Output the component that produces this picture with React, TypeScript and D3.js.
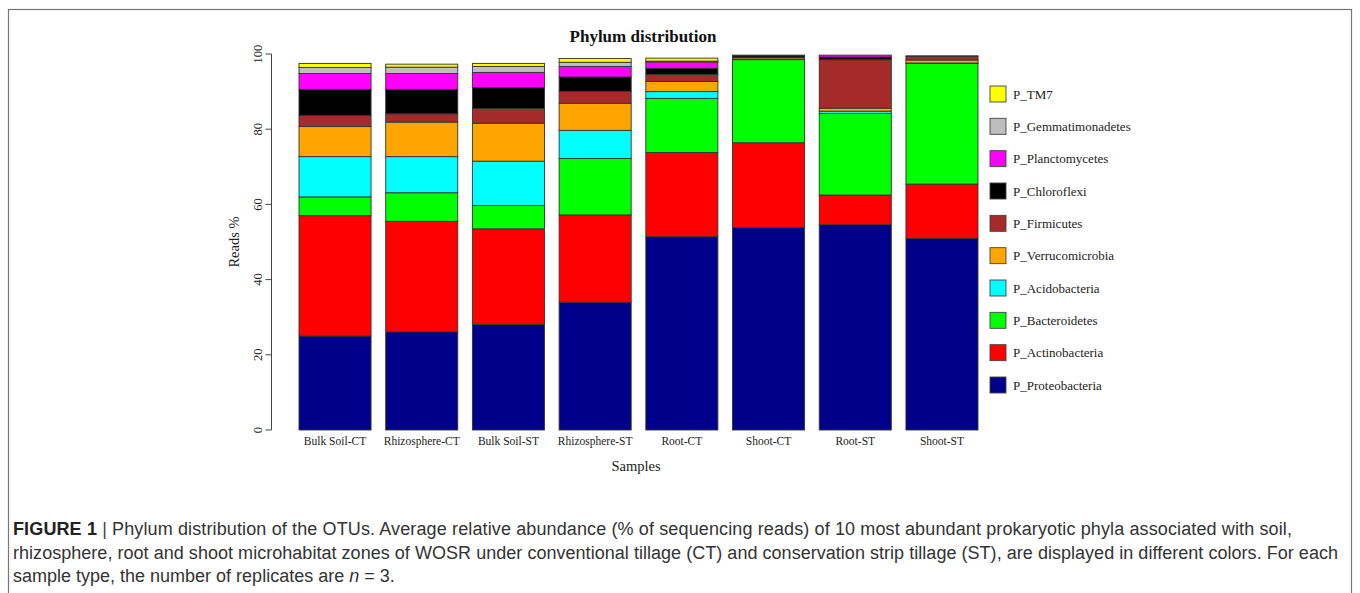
import React from "react";
import * as d3 from "d3";

// samples on the x axis
const samples = [
  "Bulk Soil-CT",
  "Rhizosphere-CT",
  "Bulk Soil-ST",
  "Rhizosphere-ST",
  "Root-CT",
  "Shoot-CT",
  "Root-ST",
  "Shoot-ST",
];

// phyla, bottom of the stack first
const phyla = [
  "P_Proteobacteria",
  "P_Actinobacteria",
  "P_Bacteroidetes",
  "P_Acidobacteria",
  "P_Verrucomicrobia",
  "P_Firmicutes",
  "P_Chloroflexi",
  "P_Planctomycetes",
  "P_Gemmatimonadetes",
  "P_TM7",
];

const phylaColors = [
  "#00008B",
  "#FF0000",
  "#00FF00",
  "#00FFFF",
  "#FFA500",
  "#A52A2A",
  "#000000",
  "#FF00FF",
  "#BEBEBE",
  "#FFFF00",
];

// reads % per phylum, one value per sample
const proteobacteria = [25.0, 26.1, 28.1, 34.0, 51.4, 53.9, 54.6, 50.9];
const actinobacteria = [32.0, 29.4, 25.4, 23.2, 22.4, 22.5, 7.9, 14.5];
const bacteroidetes = [5.0, 7.6, 6.2, 15.0, 14.4, 22.1, 21.7, 32.1];
const acidobacteria = [10.7, 9.6, 11.8, 7.5, 1.8, 0.1, 0.6, 0.1];
const verrucomicrobia = [8.0, 9.2, 10.1, 7.2, 2.7, 0.4, 0.8, 0.8];
const firmicutes = [3.0, 2.2, 3.9, 3.2, 1.9, 0.2, 12.9, 1.0];
const chloroflexi = [6.9, 6.5, 5.6, 3.8, 1.6, 0.4, 0.7, 0.1];
const planctomycetes = [4.2, 4.2, 4.0, 2.8, 1.7, 0.1, 0.5, 0.0];
const gemmatimonadetes = [1.6, 1.7, 1.6, 1.1, 0.2, 0.0, 0.0, 0.0];
const tm7 = [1.1, 0.8, 0.8, 1.0, 0.8, 0.0, 0.0, 0.0];

const yTicks = [0, 20, 40, 60, 80, 100];

const series = [
  proteobacteria,
  actinobacteria,
  bacteroidetes,
  acidobacteria,
  verrucomicrobia,
  firmicutes,
  chloroflexi,
  planctomycetes,
  gemmatimonadetes,
  tm7,
];

const captionLines = [
  "Phylum distribution of the OTUs. Average relative abundance (% of sequencing reads) of 10 most abundant prokaryotic phyla associated with soil,",
  "rhizosphere, root and shoot microhabitat zones of WOSR under conventional tillage (CT) and conservation strip tillage (ST), are displayed in different colors. For each",
];

const SERIF = "'Liberation Serif', 'Times New Roman', serif";
const SANS = "'Liberation Sans', Arial, sans-serif";

export default function App() {
  const width = 1360;
  const height = 593;

  // table for d3.stack
  const table = samples.map((s, i) => {
    const row: Record<string, number | string> = { sample: s };
    phyla.forEach((p, j) => (row[p] = series[j][i]));
    return row;
  });
  const stacked = d3.stack<any>().keys(phyla)(table);

  const x = d3
    .scaleBand<string>()
    .domain(samples)
    .range([299, 978])
    .paddingInner(0.169)
    .paddingOuter(0);

  const y = d3.scaleLinear().domain([0, 100]).range([430, 54]);

  const legendY = d3
    .scalePoint<string>()
    .domain([...phyla].reverse())
    .range([94, 385]);

  const axisX = 271.5;

  return (
    <div style={{ position: "absolute", left: 0, top: 0 }}>
      <svg width={width} height={height} style={{ display: "block" }}>
        <rect x={0} y={0} width={width} height={height} fill="#fff" />
        {/* frame */}
        <rect
          x={8.5}
          y={9.5}
          width={1343}
          height={620}
          fill="none"
          stroke="#777"
          strokeWidth={1.2}
        />

        {/* title */}
        <text
          x={643}
          y={42}
          textAnchor="middle"
          fontFamily={SERIF}
          fontWeight="bold"
          fontSize={17}
          fill="#111"
        >
          Phylum distribution
        </text>

        {/* stacked bars */}
        {stacked.map((layer, li) => (
          <g key={layer.key} fill={phylaColors[li]}>
            {layer.map((d, i) => {
              const h = y(d[0]) - y(d[1]);
              if (h <= 0) return null;
              return (
                <rect
                  key={i}
                  x={x(samples[i])}
                  y={y(d[1])}
                  width={x.bandwidth()}
                  height={h}
                  stroke="#333"
                  strokeWidth={0.9}
                />
              );
            })}
          </g>
        ))}

        {/* y axis */}
        <g fontFamily={SERIF} fontSize={12.5} fill="#222">
          <line
            x1={axisX}
            x2={axisX}
            y1={y(0)}
            y2={y(100)}
            stroke="#444"
            strokeWidth={1}
          />
          {yTicks.map((t) => (
            <g key={t}>
              <line
                x1={axisX - 6}
                x2={axisX}
                y1={y(t)}
                y2={y(t)}
                stroke="#444"
                strokeWidth={1}
              />
              <text
                transform={`translate(${axisX - 10},${y(t)}) rotate(-90)`}
                textAnchor="middle"
              >
                {t}
              </text>
            </g>
          ))}
          <text
            transform={`translate(239,${(y(0) + y(100)) / 2}) rotate(-90)`}
            textAnchor="middle"
            fontSize={14.5}
          >
            Reads %
          </text>
        </g>

        {/* x labels */}
        <g fontFamily={SERIF} fontSize={11.5} fill="#222" textAnchor="middle">
          {samples.map((s) => (
            <text key={s} x={(x(s) ?? 0) + x.bandwidth() / 2} y={445}>
              {s}
            </text>
          ))}
          <text x={636} y={471} fontSize={14.5}>
            Samples
          </text>
        </g>

        {/* legend */}
        <g fontFamily={SERIF} fontSize={13} fill="#222">
          {phyla.map((p, i) => (
            <g key={p} transform={`translate(990,${legendY(p)})`}>
              <rect
                x={0}
                y={-8}
                width={16}
                height={16}
                fill={phylaColors[i]}
                stroke="#444"
                strokeWidth={0.9}
              />
              <text x={23} y={4.5}>
                {p}
              </text>
            </g>
          ))}
        </g>

        {/* caption */}
        <g fontFamily={SANS} fontSize={18} fill="#333">
          <text x={13} y={535} textLength={1279} lengthAdjust="spacing">
            <tspan fontWeight="bold" fill="#222">
              FIGURE 1
            </tspan>
            <tspan fill="#444"> | </tspan>
            <tspan>{captionLines[0]}</tspan>
          </text>
          <text x={13} y={558.5} textLength={1325} lengthAdjust="spacing">
            {captionLines[1]}
          </text>
          <text x={13} y={582}>
            sample type, the number of replicates are{" "}
            <tspan fontStyle="italic">n</tspan> = 3.
          </text>
        </g>
      </svg>
    </div>
  );
}
